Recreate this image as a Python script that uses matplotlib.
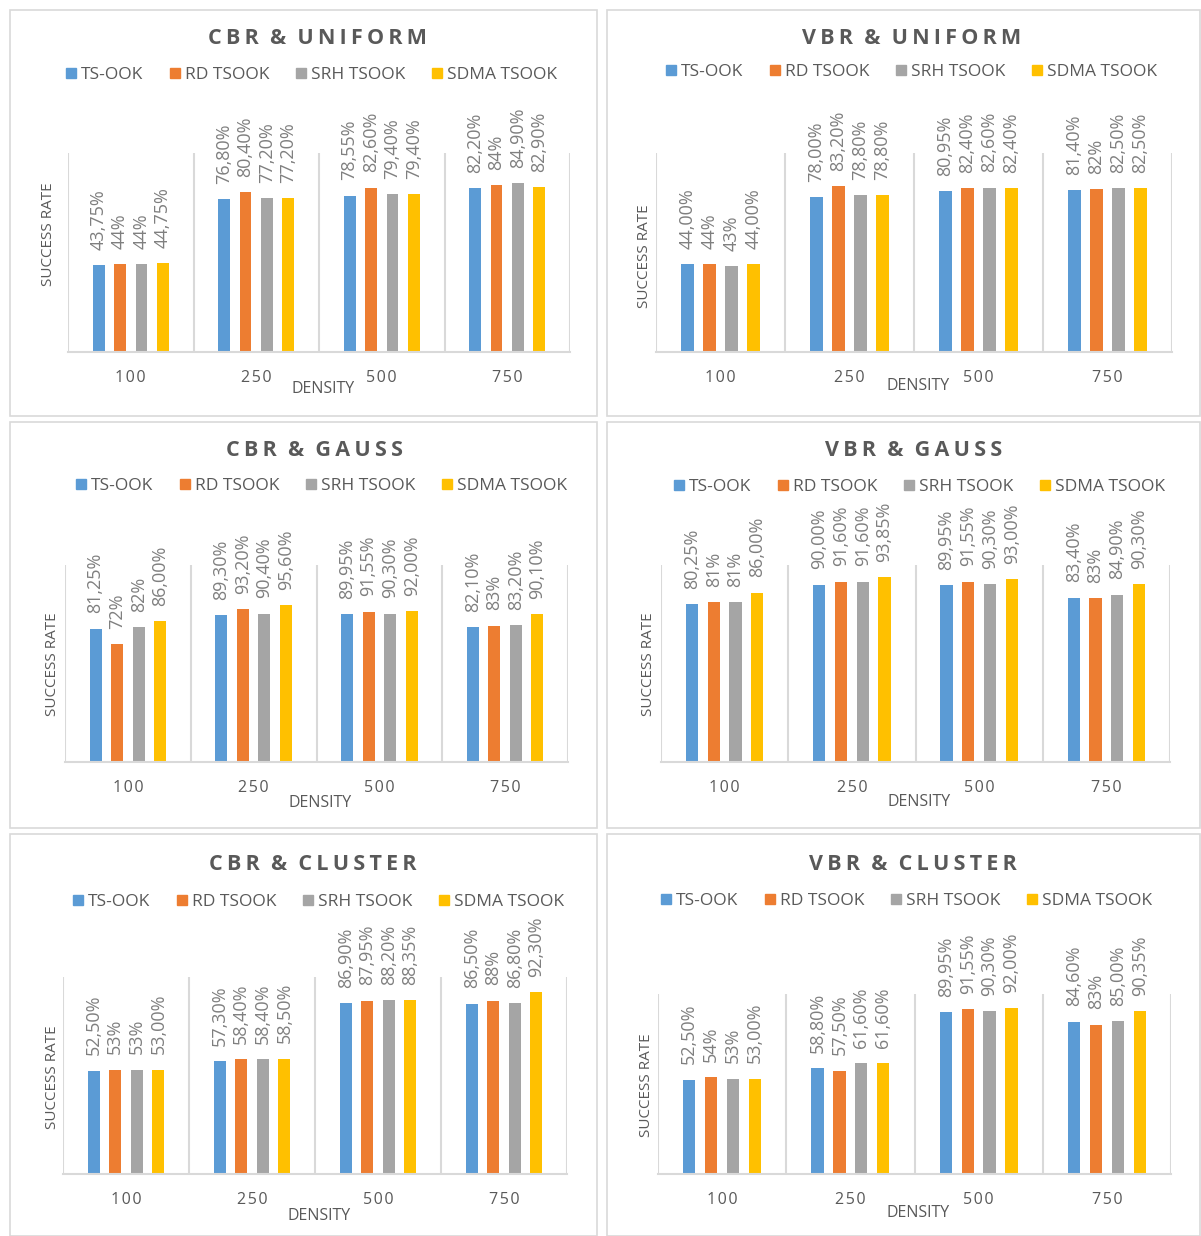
import matplotlib.pyplot as plt
from matplotlib.lines import Line2D
from matplotlib.patches import Rectangle
import numpy as np

plt.rcParams['font.family'] = ['Open Sans', 'DejaVu Sans']

W, H = 1201, 1236

densities = ['100', '250', '500', '750']
series = ['TS-OOK', 'RD TSOOK', 'SRH TSOOK', 'SDMA TSOOK']
colors = ['#5B9BD5', '#ED7D31', '#A5A5A5', '#FFC000']

# one list per series, one label per density
cbr_uniform = [['43,75%', '76,80%', '78,55%', '82,20%'],
               ['44%', '80,40%', '82,60%', '84%'],
               ['44%', '77,20%', '79,40%', '84,90%'],
               ['44,75%', '77,20%', '79,40%', '82,90%']]
vbr_uniform = [['44,00%', '78,00%', '80,95%', '81,40%'],
               ['44%', '83,20%', '82,40%', '82%'],
               ['43%', '78,80%', '82,60%', '82,50%'],
               ['44,00%', '78,80%', '82,40%', '82,50%']]
cbr_gauss = [['81,25%', '89,30%', '89,95%', '82,10%'],
             ['72%', '93,20%', '91,55%', '83%'],
             ['82%', '90,40%', '90,30%', '83,20%'],
             ['86,00%', '95,60%', '92,00%', '90,10%']]
vbr_gauss = [['80,25%', '90,00%', '89,95%', '83,40%'],
             ['81%', '91,60%', '91,55%', '83%'],
             ['81%', '91,60%', '90,30%', '84,90%'],
             ['86,00%', '93,85%', '93,00%', '90,30%']]
cbr_cluster = [['52,50%', '57,30%', '86,90%', '86,50%'],
               ['53%', '58,40%', '87,95%', '88%'],
               ['53%', '58,40%', '88,20%', '86,80%'],
               ['53,00%', '58,50%', '88,35%', '92,30%']]
vbr_cluster = [['52,50%', '58,80%', '89,95%', '84,60%'],
               ['54%', '57,50%', '91,55%', '83%'],
               ['53%', '61,60%', '90,30%', '85,00%'],
               ['53,00%', '61,60%', '92,00%', '90,35%']]

TXT = '#595959'
LBL = '#7F7F7F'
GRID = '#D9D9D9'


def spaced(s, sep='\u200a'):
    return sep.join(s)


def to_val(s):
    return float(s.replace(',', '.').rstrip('%')) / 100


fig = plt.figure(figsize=(W / 100, H / 100), dpi=100)

# panel frames
for (px, py, pw, ph) in [(10, 10, 587, 406), (607, 10, 593, 406),
                         (10, 422, 587, 406), (607, 422, 593, 406),
                         (10, 834, 587, 402), (607, 834, 593, 402)]:
    fig.patches.append(Rectangle((px / W, 1 - (py + ph) / H), pw / W, ph / H,
                                 transform=fig.transFigure, fill=False,
                                 edgecolor=GRID, lw=1.2))

# title, data, plot box (x0, x1, base, top), ymax, title y, legend x/y, ylabel x/y, density y
panels = [
    ('CBR & UNIFORM', cbr_uniform, (68, 570, 352, 153), 1.0, 39, 310, 75, 49, 234, 389),
    ('VBR & UNIFORM', vbr_uniform, (656, 1172, 352, 153), 1.0, 39, 910, 72, 645, 256, 386),
    ('CBR & GAUSS', cbr_gauss, (65, 568, 762, 565), 1.2, 451, 320, 486, 53, 664, 803),
    ('VBR & GAUSS', vbr_gauss, (661, 1170, 762, 565), 1.0, 451, 918, 487, 648, 664, 802),
    ('CBR & CLUSTER', cbr_cluster, (63, 567, 1174, 977), 1.0, 864, 317, 902, 52, 1077, 1216),
    ('VBR & CLUSTER', vbr_cluster, (658, 1171, 1174, 994), 1.0, 864, 905, 901, 647, 1085, 1213),
]

x = np.arange(len(densities))
bw = 0.095
step = 0.171

for title, data, (x0, x1, base, top), ymax, ty, lx, ly, ylx, yly, dy in panels:
    ax = fig.add_axes([x0 / W, 1 - base / H, (x1 - x0) / W, (base - top) / H])
    ax.set_xlim(-0.5, len(densities) - 0.5)
    ax.set_ylim(0, ymax)
    for k in range(len(densities) + 1):
        ax.axvline(k - 0.5, color=GRID, lw=1.5, zorder=0)
    for i, labels in enumerate(data):
        vals = [to_val(s) for s in labels]
        xs = x + (i - 1.5) * step
        ax.bar(xs, vals, width=bw, color=colors[i], zorder=2)
        for xx, v, s in zip(xs, vals, labels):
            ax.annotate(s, (xx, v), xytext=(0, 11), textcoords='offset points',
                        rotation=90, ha='center', va='bottom', fontsize=13,
                        color=LBL, annotation_clip=False)
    ax.set_xticks(x)
    ax.set_xticklabels([spaced(d) for d in densities], fontsize=11.5, color=TXT)
    ax.tick_params(axis='x', length=0, pad=13)
    ax.set_yticks([])
    for sp in ['left', 'right', 'top']:
        ax.spines[sp].set_visible(False)
    ax.spines['bottom'].set_color(GRID)
    ax.spines['bottom'].set_linewidth(1.5)
    ax.patch.set_alpha(0)

    cx = (x0 + x1) / 2
    fig.text((cx - 2) / W, 1 - ty / H, spaced(title, '\u2009').replace('\u2009 \u2009', '  '),
             ha='center', va='center', fontsize=15.5, fontweight='bold', color=TXT)
    handles = [Line2D([], [], marker='s', ls='none', color=c, markersize=7.5) for c in colors]
    fig.legend(handles, series, loc='center', bbox_to_anchor=(lx / W, 1 - ly / H),
               ncol=4, frameon=False, fontsize=12.5, labelcolor=TXT,
               handletextpad=0.1, columnspacing=1.4, handlelength=0.9)
    fig.text(ylx / W, 1 - yly / H, 'SUCCESS RATE', rotation=90,
             ha='center', va='center', fontsize=11, color=TXT)
    fig.text((cx + 4) / W, 1 - dy / H, 'DENSITY', ha='center', va='center',
             fontsize=11.5, color=TXT)

fig.savefig('out.png', dpi=100, facecolor='white')
